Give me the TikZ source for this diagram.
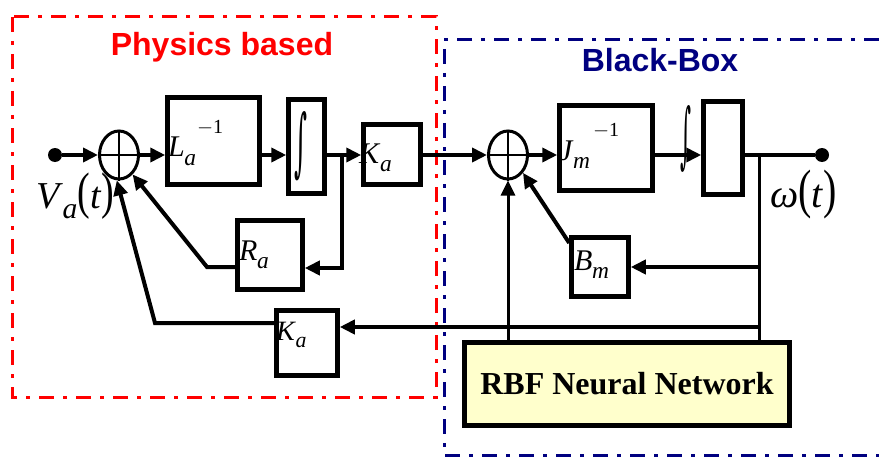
\documentclass[tikz,border=0pt]{standalone}
\usepackage{fontspec}
\usepackage{graphicx}
\setmainfont{Liberation Serif}
\newfontfamily\sansf{Liberation Sans}
\newfontfamily\djs{DejaVu Serif}
\usetikzlibrary{arrows.meta,shapes.geometric,calc}
\definecolor{navyb}{RGB}{0,0,128}
\definecolor{rbfyel}{RGB}{255,255,204}
\newcommand\fs[1]{\fontsize{#1}{#1}\selectfont}
\newcommand\vsub[2]{\textit{#1}\kern-0.5pt\raisebox{-0.28em}{\scalebox{0.78}{\textit{#2}}}}
\newcommand\tallp[1]{\scalebox{1}[1.35]{#1}}
\begin{document}
\begin{tikzpicture}[x=1pt,y=-1pt,
  blk/.style={draw, line width=4.5pt, inner sep=0pt},
  wire/.style={line width=4pt},
  thinw/.style={line width=3pt},
  arr/.style={-{Triangle[length=15pt,width=14pt]}},
  dotn/.style={circle, fill, inner sep=0pt, minimum size=14pt},
  sumj/.style={ellipse, draw, line width=3pt, minimum width=39pt, minimum height=48pt, inner sep=0pt},
  lbl/.style={inner sep=0pt, anchor=base west},
  ddash/.style={line width=3pt, dash pattern=on 15pt off 9pt on 4pt off 9pt}]
\fill[white] (0,0) rectangle (879,460);
\useasboundingbox (0,0) rectangle (879,460);
% region frames
\draw[ddash, red] (12,17) rectangle (436,397);
\draw[ddash, navyb] (879,40) -- (444,40) -- (444,455) -- (879,455);
\node[text=red, font=\sansf\bfseries\fs{32}] (tphys) at (222,47) {Physics based};
\node[text=navyb, font=\sansf\bfseries\fs{32}] (tbb) at (660,60) {Black-Box};
% blocks
\coordinate (m) at (0,155);
\node[dotn] (in) at (55,155) {};
\node[sumj] (s1) at (119,155) {};
\draw[line width=2.5pt] (s1.north) -- (s1.south) (s1.west) -- (s1.east);
\node[blk, minimum width=92pt, minimum height=87pt] (La) at (213.5,141) {};
\node[blk, minimum width=36pt, minimum height=94pt] (int) at (306.5,146.5) {};
\node[blk, minimum width=57pt, minimum height=60pt] (Ka) at (392,154.5) {};
\node[blk, minimum width=65pt, minimum height=69pt] (Ra) at (270,255) {};
\node[blk, minimum width=61pt, minimum height=65pt] (Ka2) at (307,343) {};
\node[sumj] (s2) at (508,155) {};
\draw[line width=2.5pt] (s2.north) -- (s2.south) (s2.west) -- (s2.east);
\node[blk, minimum width=93pt, minimum height=85pt] (Jm) at (606,148) {};
\node[blk, minimum width=39pt, minimum height=93pt] (bl) at (723,148) {};
\node[dotn] (out) at (822,155) {};
\node[blk, minimum width=57pt, minimum height=59pt] (Bm) at (600,267) {};
\node[blk, fill=rbfyel, minimum width=325pt, minimum height=83pt, font=\bfseries\fs{32}] (rbf) at (627,384) {RBF Neural Network};
% labels
\node[lbl, font=\fs{30}] (tLa) at (168,157) {\vsub{L}{a}\hspace{1pt}\raisebox{24pt}{\fs{20}$-$1}};
\node[lbl, font=\fs{30}] (tJm) at (559,160) {\vsub{J}{m}\hspace{3pt}\raisebox{24pt}{\fs{20}$-$1}};
\node[lbl, font=\fs{30}] (tKa) at (359,163) {\vsub{K}{a}};
\node[lbl, font=\fs{30}] (tRa) at (239,260) {\vsub{R}{a}};
\node[lbl, font=\fs{28}] (tKa2) at (276,340) {\vsub{K}{a}};
\node[lbl, font=\fs{30}] (tBm) at (574,270) {\vsub{B}{m}};
\node[lbl, font=\fs{38}] (tVa) at (36,208) {\vsub{V}{a}\tallp{(}\textit{t}\tallp{)}};
\node[lbl, font=\fs{40}] (tw) at (770,207) {\textit{ω}\tallp{(}\textit{t}\tallp{)}};
\node[inner sep=0pt] (tint) at (301,146) {\resizebox{13pt}{56pt}{\djs ∫}};
\node[inner sep=0pt] (tint2) at (686,139) {\resizebox{11pt}{54pt}{\djs ∫}};
% connectors
\draw[wire, arr] (in) -- (s1.west);
\draw[wire, arr] (s1.east) -- (s1.east -| La.west);
\draw[wire, arr] (La.east |- m) -- (int.west |- m);
\draw[wire, arr] (int.east |- m) -- (Ka.west |- m);
\coordinate (j1) at (342,155);
\coordinate (j1b) at (342,268);
\draw[wire, arr] (j1) -- (j1b) -- (j1b -| Ra.east);
\coordinate (ra1) at (207,267);
\draw[wire, arr] (ra1 -| Ra.west) -- (ra1) -- (s1.-55);
\coordinate (ka1) at (155,323);
\draw[wire, arr] (ka1 -| Ka2.west) -- (ka1) -- (s1.-95);
\draw[wire, arr] (Ka.east |- m) -- (s2.west);
\draw[wire, arr] (s2.east) -- (s2.east -| Jm.west);
\draw[wire, arr] (Jm.east |- m) -- (bl.west |- m);
\draw[wire] (bl.east |- m) -- (out);
\coordinate (j2) at (759,155);
\draw[thinw] (j2) -- (j2 |- rbf.north);
\coordinate (kb) at (759,327);
\draw[wire, arr] (kb) -- (kb -| Ka2.east);
\draw[wire, arr] (j2 |- Bm.east) -- (Bm.east);
\draw[wire, arr] (Bm.142) -- (s2.-50);
\draw[thinw, arr] (s2.south |- rbf.north) -- (s2.south);
\end{tikzpicture}
\end{document}
